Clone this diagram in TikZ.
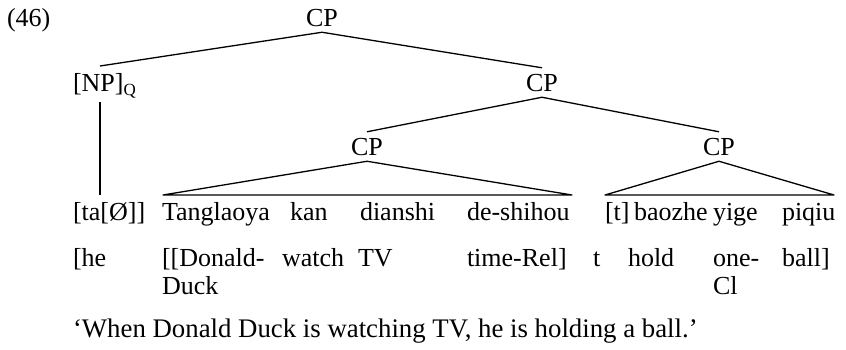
\documentclass[tikz,border=0pt]{standalone}
\usepackage{fontspec}
\setmainfont{Liberation Serif}
\begin{document}
\begin{tikzpicture}[x=1pt,y=-1pt,
  every node/.style={inner sep=0pt,outer sep=0pt,font=\fontsize{26}{31}\selectfont},
  lab/.style={anchor=base,inner ysep=6pt},
  word/.style={anchor=base west},
  branch/.style={line width=1.3pt,line join=round}]
\useasboundingbox (0,0) rectangle (846,349);

% example number
\node[word] (num) at (7,26) {(46)};

% category labels
\node[lab] (cp1) at (322,26) {CP};
\node[word,inner ysep=6pt] (np) at (73,91) {[NP]\raisebox{-4pt}{\fontsize{17}{17}\selectfont Q}};
\node[lab] (cp2) at (542,91) {CP};
\node[lab] (cp3) at (367,155) {CP};
\node[lab] (cp4) at (719,155) {CP};

% Chinese words
\node[word] (w1) at (73,220) {[ta[Ø]]};
\node[word] (w2) at (162,220) {Tanglaoya};
\node[word] (w3) at (290,220) {kan};
\node[word] (w4) at (360,220) {dianshi};
\node[word] (w5) at (467,220) {de-shihou};
\node[word] (w6) at (605,220) {[t]};
\node[word] (w7) at (634,220) {baozhe};
\node[word] (w8) at (713,220) {yige};
\node[word] (w9) at (782,220) {piqiu};

% glosses
\node[word] (g1) at (73,266) {[he};
\node[word] (g2) at (162,266) {[[Donald-};
\node[word] (g2b) at (162,294) {Duck};
\node[word] (g3) at (282,266) {watch};
\node[word] (g4) at (358,266) {TV};
\node[word] (g5) at (467,266) {time-Rel]};
\node[word] (g6) at (593,266) {t};
\node[word] (g7) at (628,266) {hold};
\node[word] (g8) at (713,266) {one-};
\node[word] (g8b) at (713,294) {Cl};
\node[word] (g9) at (782,266) {ball]};

% free translation
\node[word,font=\fontsize{26.8}{31}\selectfont] (tr) at (73,337) {‘When Donald Duck is watching TV, he is holding a ball.’};

% branch points
\coordinate (npl) at (100,66);
\coordinate (npb) at (100,102);
\coordinate (lf) at (100,195);
\coordinate (t1l) at (163,195);
\coordinate (t1r) at (572,195);
\coordinate (t2l) at (605,195);
\coordinate (t2r) at (834,195);

% branches
\draw[branch] (npl) -- (cp1.south) -- (cp2.north);
\draw[branch] (cp3.north) -- (cp2.south) -- (cp4.north);
\draw[branch] (npb) -- (lf);
\draw[branch] (cp3.south) -- (t1l) -- (t1r) -- cycle;
\draw[branch] (cp4.south) -- (t2l) -- (t2r) -- cycle;
\end{tikzpicture}
\end{document}
